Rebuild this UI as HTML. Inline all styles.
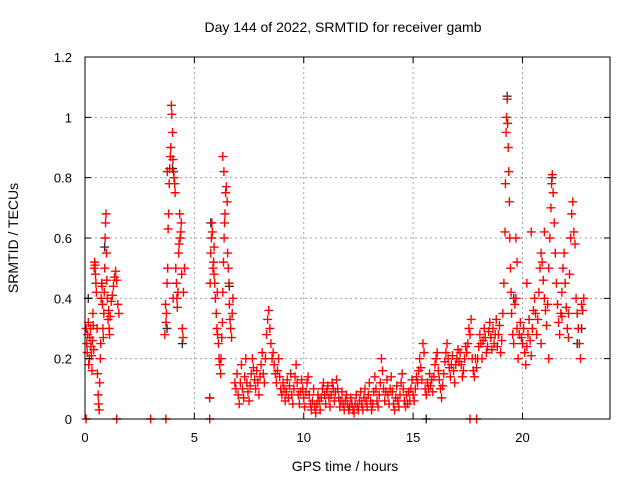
<!DOCTYPE html>
<html><head><meta charset="utf-8"><style>
body{margin:0;background:#fff}
svg{display:block;font-family:"Liberation Sans",sans-serif}
</style></head><body>
<svg id="chart" width="640" height="480" viewBox="0 0 640 480">
<rect width="640" height="480" fill="#fff"/>
<g id="grid"></g>
<g id="black"></g>
<g id="red"></g>
<g id="axes"></g>
<text x="343" y="32" text-anchor="middle" font-size="14">Day 144 of 2022, SRMTID for receiver gamb</text>
<text x="345" y="471" text-anchor="middle" font-size="14">GPS time / hours</text>
<text transform="translate(18,238) rotate(-90)" text-anchor="middle" font-size="14">SRMTID / TECUs</text>
</svg>
<script>
const xTicks=[0,5,10,15,20];
const yTicks=[0,0.2,0.4,0.6,0.8,1,1.2];
const yTickLabels=["0","0.2","0.4","0.6","0.8","1","1.2"];
const hours=[0.05,0.08,0.1,0.12,0.15,0.17,0.2,0.22,0.25,0.27,0.3,0.32,0.34,0.36,0.38,0.4,0.42,0.44,0.46,0.48,0.5,0.52,0.55,0.57,0.6,0.62,0.65,0.67,0.7,0.72,0.74,0.76,0.78,0.8,0.82,0.84,0.86,0.88,0.9,0.92,0.94,0.96,0.98,1.0,1.02,1.05,1.08,1.1,1.12,1.15,1.2,1.25,1.3,1.35,1.4,1.45,1.5,1.55,
3.65,3.7,3.72,3.75,3.78,3.8,3.82,3.85,3.87,3.9,3.92,3.95,3.97,4.0,4.02,4.05,4.07,4.1,4.12,4.15,4.18,4.2,4.22,4.25,4.28,4.3,4.35,4.38,4.4,4.42,4.45,4.48,4.5,4.55,3.68,3.76,4.03,4.33,
5.7,5.72,5.75,5.78,5.8,5.82,5.85,5.88,5.9,5.93,5.96,6.0,6.03,6.06,6.1,6.13,6.16,6.2,6.22,6.25,6.28,6.3,6.33,6.36,6.38,6.4,6.43,6.46,6.3,6.35,6.5,6.52,6.55,6.58,6.6,6.63,6.66,6.7,6.73,6.76,5.9,6.05,
6.85,6.9,6.95,7.0,7.05,7.1,7.15,7.2,7.25,7.3,7.35,7.4,7.45,7.5,7.55,7.6,7.65,7.7,7.75,7.8,7.85,7.9,7.95,8.0,8.05,8.1,8.15,8.2,8.25,8.3,8.35,8.4,8.45,8.5,8.55,8.6,8.65,8.7,8.75,8.8,8.85,8.9,8.95,
9.0,9.05,9.1,9.15,9.2,9.25,9.3,9.35,9.4,9.45,9.5,9.55,9.6,9.65,9.7,9.75,9.8,9.85,9.9,9.95,10.0,10.05,10.1,10.15,10.2,10.25,10.3,10.35,10.4,10.45,10.5,10.55,10.6,10.65,10.7,10.75,10.8,10.85,10.9,10.95,11.0,11.05,11.1,11.15,11.2,11.25,11.3,11.35,11.4,11.45,11.5,11.55,11.6,11.65,11.7,11.75,11.8,11.85,11.9,11.95,12.0,12.05,12.1,12.15,12.2,12.25,12.3,12.35,12.4,12.45,12.5,12.55,12.6,12.65,12.7,12.75,12.8,12.85,12.9,12.95,13.0,13.05,13.1,13.15,13.2,13.25,13.3,13.35,13.4,13.45,13.5,13.55,13.6,13.65,13.7,13.75,13.8,13.85,13.9,13.95,14.0,14.05,14.1,14.15,14.2,14.25,14.3,14.35,14.4,14.45,14.5,14.55,14.6,14.65,14.7,14.75,14.8,14.85,14.9,14.95,15.0,15.05,15.1,15.15,15.2,15.25,15.3,15.35,15.4,15.45,15.5,15.55,
15.6,15.65,15.7,15.75,15.8,15.85,15.9,15.95,16.0,16.05,16.1,16.15,16.2,16.25,16.3,16.35,16.4,16.45,16.5,16.55,16.6,16.65,16.7,16.75,16.8,16.85,16.9,16.95,17.0,17.05,17.1,17.15,17.2,17.25,17.3,17.35,17.4,17.45,17.5,17.55,17.6,17.65,17.7,17.75,17.8,17.85,17.9,17.95,18.0,18.05,18.1,18.15,18.2,18.25,18.3,18.35,18.4,18.45,18.5,18.55,18.6,18.65,18.7,18.75,18.8,18.85,18.9,18.95,19.0,19.05,
19.1,19.15,19.2,19.22,19.25,19.27,19.3,19.32,19.35,19.37,19.4,19.42,19.45,19.48,19.5,19.55,19.6,19.65,19.7,19.75,19.8,19.85,19.9,19.95,20.0,20.05,20.1,20.15,20.2,20.25,20.3,20.35,20.4,20.45,20.5,20.55,20.6,20.65,20.7,20.75,20.8,20.85,20.9,20.95,21.0,21.05,21.1,21.15,21.2,21.25,21.3,21.33,21.36,21.4,21.45,21.5,21.55,21.6,21.65,21.7,21.75,21.8,21.85,21.9,21.95,22.0,22.05,22.1,22.15,22.2,22.25,22.3,22.35,22.4,22.45,22.5,22.55,22.6,22.65,22.7,22.75,22.8,20.4,19.7,19.75,20.2,21.0,20.85,21.2,22.1,21.8,
0.05,1.45,3.0,3.7,5.7,17.6,17.9];
const srmtid=[.30,.25,.22,.28,.32,.18,.2,.27,.3,.24,.21,.16,.26,.35,.31,.23,.5,.52,.51,.48,.45,.42,.3,.15,.08,.05,.03,.12,.2,.25,.4,.45,.44,.38,.3,.27,.35,.42,.5,.6,.65,.68,.55,.46,.4,.33,.36,.3,.28,.34,.39,.41,.44,.47,.49,.46,.38,.35,
.28,.32,.35,.45,.5,.63,.68,.78,.83,.87,.9,1.04,1.01,.95,.86,.82,.8,.78,.75,.5,.45,.4,.37,.42,.55,.58,.6,.62,.65,.48,.3,.27,.42,.5,.38,.82,.4,.68,
.07,.45,.55,.6,.65,.62,.5,.52,.48,.45,.4,.35,.3,.28,.25,.2,.18,.15,.2,.27,.32,.42,.52,.6,.65,.68,.75,.77,.87,.82,.72,.55,.5,.45,.38,.33,.3,.27,.35,.4,.57,.42,
.12,.1,.15,.08,.05,.12,.18,.1,.07,.14,.2,.12,.09,.06,.11,.15,.2,.17,.13,.1,.16,.12,.08,.14,.18,.22,.15,.12,.2,.28,.33,.36,.3,.25,.2,.22,.18,.15,.12,.16,.2,.14,.1,
.08,.12,.1,.06,.09,.13,.07,.11,.15,.08,.05,.1,.14,.18,.12,.08,.05,.09,.13,.1,.07,.04,.09,.12,.14,.08,.05,.03,.06,.1,.04,.02,.05,.08,.06,.03,.07,.1,.12,.08,.05,.09,.11,.07,.04,.08,.12,.1,.06,.09,.13,.1,.07,.04,.06,.09,.05,.03,.06,.08,.05,.03,.04,.07,.05,.03,.02,.05,.08,.04,.03,.06,.09,.05,.03,.07,.1,.06,.04,.08,.12,.06,.03,.05,.09,.14,.1,.06,.04,.08,.12,.2,.16,.1,.06,.09,.13,.08,.05,.1,.14,.09,.05,.03,.07,.11,.06,.04,.08,.12,.15,.1,.06,.04,.08,.05,.09,.06,.1,.13,.08,.06,.1,.14,.12,.16,.2,.17,.13,.25,.22,.1,
.08,.12,.1,.15,.11,.13,.09,.14,.18,.2,.22,.16,.13,.1,.07,.11,.15,.19,.22,.25,.2,.17,.14,.18,.21,.16,.12,.18,.2,.23,.19,.22,.18,.14,.16,.2,.24,.22,.25,.3,.28,.33,.2,.16,.14,.2,.17,.2,.24,.28,.25,.2,.26,.3,.27,.22,.24,.29,.32,.27,.23,.3,.25,.28,.33,.24,.28,.31,.22,.26,
.35,.45,.62,.78,.95,1.0,1.06,.98,.9,.82,.72,.6,.5,.42,.35,.28,.25,.38,.4,.3,.2,.28,.32,.27,.25,.3,.22,.18,.24,.28,.33,.26,.21,.3,.36,.4,.35,.28,.33,.42,.5,.55,.52,.46,.4,.36,.31,.38,.5,.6,.7,.78,.81,.75,.65,.55,.45,.38,.32,.28,.35,.42,.5,.55,.45,.37,.3,.35,.48,.6,.68,.72,.62,.58,.4,.35,.3,.25,.2,.38,.36,.4,.62,.6,.52,.45,.62,.25,.2,.27,.34,
0,0,0,0,0,0,0];
const blackHours=[0.15,0.9,3.75,4.0,4.45,5.75,5.7,6.6,15.6,19.3,19.6,21.35,22.5,22.7];
const blackVals=[0.4,0.57,0.3,0.83,0.25,0.65,0.07,0.44,0,1.07,0.4,0.8,0.25,0.3];

const X0=85,X1=610,Y0=419,Y1=57;
const sx=h=>X0+h*(X1-X0)/24;
const sy=v=>Y0-v*(Y0-Y1)/1.2;
const NS="http://www.w3.org/2000/svg";
function mk(tag,parent){const e=document.createElementNS(NS,tag);parent.appendChild(e);return e;}
const grid=document.getElementById('grid'),axes=document.getElementById('axes');
xTicks.forEach(t=>{
 if(t>0){const l=mk('line',grid);
 
 
 l.setAttribute('x1',sx(t));l.setAttribute('x2',sx(t));l.setAttribute('y1',Y1);l.setAttribute('y2',Y0);
 l.setAttribute('stroke','#a0a0a0');l.setAttribute('stroke-dasharray','2,3');}
 const tk=mk('path',axes);
 
 
 tk.setAttribute('d',`M${sx(t)},${Y0}v-6M${sx(t)},${Y1}v6`);tk.setAttribute('stroke','#000');
 const tx=mk('text',axes);
 
 
 tx.setAttribute('x',sx(t));tx.setAttribute('y',Y0+23);tx.setAttribute('text-anchor','middle');tx.setAttribute('font-size','13');tx.textContent=t;
});
yTicks.forEach((t,i)=>{
 if(t>0&&t<1.2){const l=mk('line',grid);
 
 
 l.setAttribute('x1',X0);l.setAttribute('x2',X1);l.setAttribute('y1',sy(t));l.setAttribute('y2',sy(t));
 l.setAttribute('stroke','#a0a0a0');l.setAttribute('stroke-dasharray','2,3');}
 const tk=mk('path',axes);
 
 
 tk.setAttribute('d',`M${X0},${sy(t)}h6M${X1},${sy(t)}h-6`);tk.setAttribute('stroke','#000');
 const tx=mk('text',axes);
 
 
 tx.setAttribute('x',X0-13);tx.setAttribute('y',sy(t)+5);tx.setAttribute('text-anchor','end');tx.setAttribute('font-size','13');tx.textContent=yTickLabels[i];
});
const fr=mk('rect',axes);


fr.setAttribute('x',X0);fr.setAttribute('y',Y1);fr.setAttribute('width',X1-X0);fr.setAttribute('height',Y0-Y1);fr.setAttribute('fill','none');fr.setAttribute('stroke','#000');
function plus(g,hs,vs,color,name){
 let d='';
 hs.forEach((h,i)=>{const x=sx(h),y=sy(vs[i]);d+=`M${x-4.5},${y}h9M${x},${y-4.5}v9`;});
 const p=mk('path',g);
 
 
 p.setAttribute('d',d);p.setAttribute('stroke',color);p.setAttribute('stroke-width','1.4');p.setAttribute('fill','none');
}
plus(document.getElementById('black'),blackHours,blackVals,'#303030','black-markers');
plus(document.getElementById('red'),hours,srmtid,'#ff0000','red-markers');
</script>
</body></html>
